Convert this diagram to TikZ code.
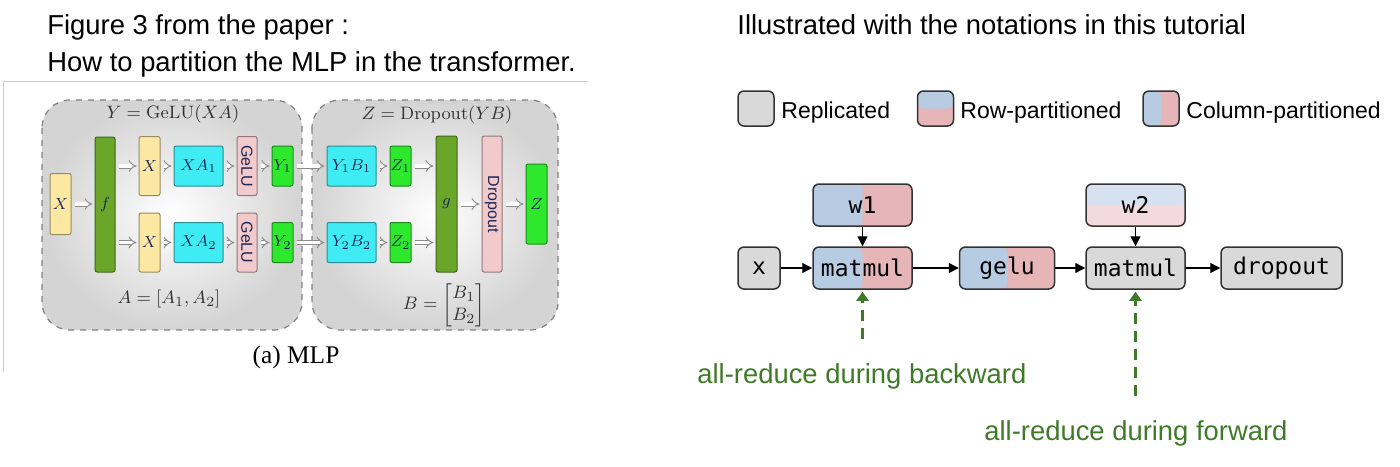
\documentclass[tikz,border=0pt]{standalone}
\usepackage{amsmath}
\usepackage[no-math]{fontspec}
\setmainfont{Liberation Sans}
\setmonofont{DejaVu Sans Mono}
\newfontfamily\paperfont{Liberation Serif}
\usetikzlibrary{arrows.meta}

\definecolor{repgray}{RGB}{217,217,217}
\definecolor{partblue}{RGB}{183,203,227}
\definecolor{partpink}{RGB}{230,181,184}
\definecolor{lightblue}{RGB}{214,226,239}
\definecolor{lightpink}{RGB}{243,218,220}
\definecolor{reducegreen}{RGB}{63,122,40}
\definecolor{paperyellow}{RGB}{253,232,163}
\definecolor{paperolive}{RGB}{106,166,42}
\definecolor{papercyan}{RGB}{64,236,244}
\definecolor{paperpink}{RGB}{242,202,204}
\definecolor{paperlime}{RGB}{46,232,46}
\definecolor{paperink}{RGB}{30,40,85}

\tikzset{
	op/.style={draw=black!80, line width=0.75pt, rounded corners=3pt,
		minimum height=21pt, inner sep=0pt,
		font=\ttfamily\fontsize{11.5}{13}\selectfont},
	replicated/.style={op, fill=repgray},
	colsplit/.style={op, path picture={
		\fill[partpink] (path picture bounding box.south west) rectangle (path picture bounding box.north east);
		\fill[partblue] (path picture bounding box.south west) rectangle (path picture bounding box.north);}},
	rowsplit/.style 2 args={op, path picture={
		\fill[#2] (path picture bounding box.south west) rectangle (path picture bounding box.north east);
		\fill[#1] (path picture bounding box.west) rectangle (path picture bounding box.north east);}},
	flow/.style={-{Triangle[length=5pt,width=5pt]}, line width=0.65pt},
	allreduce/.style={-{Triangle[length=4.5pt,width=6pt]}, draw=reducegreen,
		line width=1.5pt, dash pattern=on 5.5pt off 3.5pt, shorten >=1pt},
	greennote/.style={anchor=base west, inner sep=0pt, text=reducegreen, font=\fontsize{13.7}{16}\selectfont},
	title/.style={anchor=base west, inner sep=0pt, font=\fontsize{13.7}{16}\selectfont},
	legendtext/.style={anchor=base west, inner sep=0pt, font=\fontsize{11.5}{13}\selectfont},
	% paper figure
	blk/.style={draw=#1!60!black, fill=#1, line width=0.5pt, rounded corners=1pt,
		inner sep=0pt, text=paperink, font=\fontsize{8}{9}\selectfont},
	imp/.style={-{Implies}, double, double distance=1.6pt, line width=0.45pt,
		draw=black!45, shorten <=1.5pt, shorten >=1pt},
	panel/.style={draw=black!50, dashed, line width=0.6pt, rounded corners=14pt,
		inner color=white, outer color=black!17},
	paperlabel/.style={text=black!80, font=\fontsize{9.5}{11}\selectfont}
}

\begin{document}
\begin{tikzpicture}[x=0.5pt, y=-0.5pt]
	\useasboundingbox (0,0) rectangle (1400,466);

	% Titles
	\node[title] (figtitle) at (47,34) {Figure 3 from the paper :};
	\node[title] (howto) at (47,71) {How to partition the MLP in the transformer.};
	\node[title] (ourtitle) at (737,34) {Illustrated with the notations in this tutorial};

	%%% Left: figure of the paper
	\draw[black!20, line width=0.5pt] (3,372) -- (3,81) -- (588,81);
	\draw[panel] (42,100) rectangle (302,330);
	\draw[panel] (312,100) rectangle (558,330);
	\node[paperlabel] (ylabel) at (173,114) {$Y = \mathrm{GeLU}(XA)$};
	\node[paperlabel] (zlabel) at (437,115) {$Z = \mathrm{Dropout}(YB)$};
	\node[paperlabel] (alabel) at (169,299) {$A = [A_1, A_2]$};
	\node[paperlabel] (blabel) at (444,305) {$B = \begin{bmatrix} B_1 \\ B_2 \end{bmatrix}$};
	\node[font=\paperfont\fontsize{12.7}{14}\selectfont] (caption) at (296,357) {(a) MLP};

	% first half: f, XA_i, GeLU
	\node[blk=paperyellow, minimum width=10.5pt, minimum height=30.5pt] (xin) at (60.5,204) {$X$};
	\node[blk=paperolive, minimum width=10pt, minimum height=67.5pt] (fbar) at (105,204.5) {$f$};
	\node[blk=paperyellow, minimum width=10.5pt, minimum height=29.5pt] (xa) at (149.5,166) {$X$};
	\node[blk=paperyellow, minimum width=10.5pt, minimum height=29.5pt] (xb) at (149.5,242.5) {$X$};
	\node[blk=papercyan, minimum width=24.5pt, minimum height=20pt] (xaa) at (198.5,166) {$XA_1$};
	\node[blk=papercyan, minimum width=24.5pt, minimum height=20pt] (xab) at (198.5,242.5) {$XA_2$};
	\node[blk=paperpink, minimum width=10pt, minimum height=29.5pt] (gelua) at (247,166) {\rotatebox{-90}{GeLU}};
	\node[blk=paperpink, minimum width=10pt, minimum height=29.5pt] (gelub) at (247,242.5) {\rotatebox{-90}{GeLU}};
	\node[blk=paperlime, minimum width=10.5pt, minimum height=20pt] (ya) at (282.5,166) {$Y_1$};
	\node[blk=paperlime, minimum width=10.5pt, minimum height=20pt] (yb) at (282.5,242.5) {$Y_2$};

	% second half: YB_i, g, Dropout
	\node[blk=papercyan, minimum width=24.5pt, minimum height=20pt] (yba) at (351.5,166) {$Y_1B_1$};
	\node[blk=papercyan, minimum width=24.5pt, minimum height=20pt] (ybb) at (351.5,242.5) {$Y_2B_2$};
	\node[blk=paperlime, minimum width=10.5pt, minimum height=20pt] (za) at (400.5,166) {$Z_1$};
	\node[blk=paperlime, minimum width=10.5pt, minimum height=20pt] (zb) at (400.5,242.5) {$Z_2$};
	\node[blk=paperolive, minimum width=10.5pt, minimum height=68pt] (gbar) at (446.5,204) {$g$};
	\node[blk=paperpink, minimum width=10pt, minimum height=68pt] (dropbar) at (492,204) {\rotatebox{-90}{Dropout}};
	\node[blk=paperlime, minimum width=10.5pt, minimum height=40pt] (zout) at (536.5,204) {$Z$};

	\draw[imp] (xin.east) -- (xin.east -| fbar.west);
	\foreach \a/\b in {xa/xaa, xaa/gelua, gelua/ya, ya/yba, yba/za,
		xb/xab, xab/gelub, gelub/yb, yb/ybb, ybb/zb, gbar/dropbar, dropbar/zout}
		\draw[imp] (\a) -- (\b);
	\draw[imp] (fbar.east |- xa) -- (xa);
	\draw[imp] (fbar.east |- xb) -- (xb);
	\draw[imp] (za) -- (za -| gbar.west);
	\draw[imp] (zb) -- (zb -| gbar.west);

	%%% Right: our notations
	% Legend
	\node[replicated, minimum width=18pt, minimum height=17.5pt] (legrep) at (756,108.5) {};
	\node[legendtext] (legreptext) at (781,118) {Replicated};
	\node[rowsplit={partblue}{partpink}, minimum width=18pt, minimum height=17.5pt] (legrow) at (935.5,108.5) {};
	\node[legendtext] (legrowtext) at (960,118) {Row-partitioned};
	\node[colsplit, minimum width=18pt, minimum height=17.5pt] (legcol) at (1161,108.5) {};
	\node[legendtext] (legcoltext) at (1186,118) {Column-partitioned};

	% MLP
	\node[replicated, minimum width=21pt] (x) at (759,268) {x};
	\node[colsplit, minimum width=49.5pt] (matmulA) at (862.5,268) {matmul};
	\node[colsplit, minimum width=47.5pt] (gelu) at (1007,268) {gelu};
	\node[replicated, minimum width=49.5pt] (matmulB) at (1135.5,268) {matmul};
	\node[replicated, minimum width=60.5pt] (dropout) at (1281.5,268) {dropout};
	\node[colsplit, minimum width=49.5pt] (wA) at (862.5,205) {w1};
	\node[rowsplit={lightblue}{lightpink}, minimum width=49.5pt] (wB) at (1135.5,205) {w2};

	\draw[flow] (x) -- (matmulA);
	\draw[flow] (matmulA) -- (gelu);
	\draw[flow] (gelu) -- (matmulB);
	\draw[flow] (matmulB) -- (dropout);
	\draw[flow] (wA) -- (matmulA);
	\draw[flow] (wB) -- (matmulB);

	% Communication
	\coordinate (bwd) at (862.5,339);
	\coordinate (fwd) at (1135.5,396);
	\draw[allreduce] (bwd) -- (matmulA);
	\draw[allreduce] (fwd) -- (matmulB);
	\node[greennote] (bwdnote) at (697,383) {all-reduce during backward};
	\node[greennote] (fwdnote) at (984,440) {all-reduce during forward};

\end{tikzpicture}
\end{document}
